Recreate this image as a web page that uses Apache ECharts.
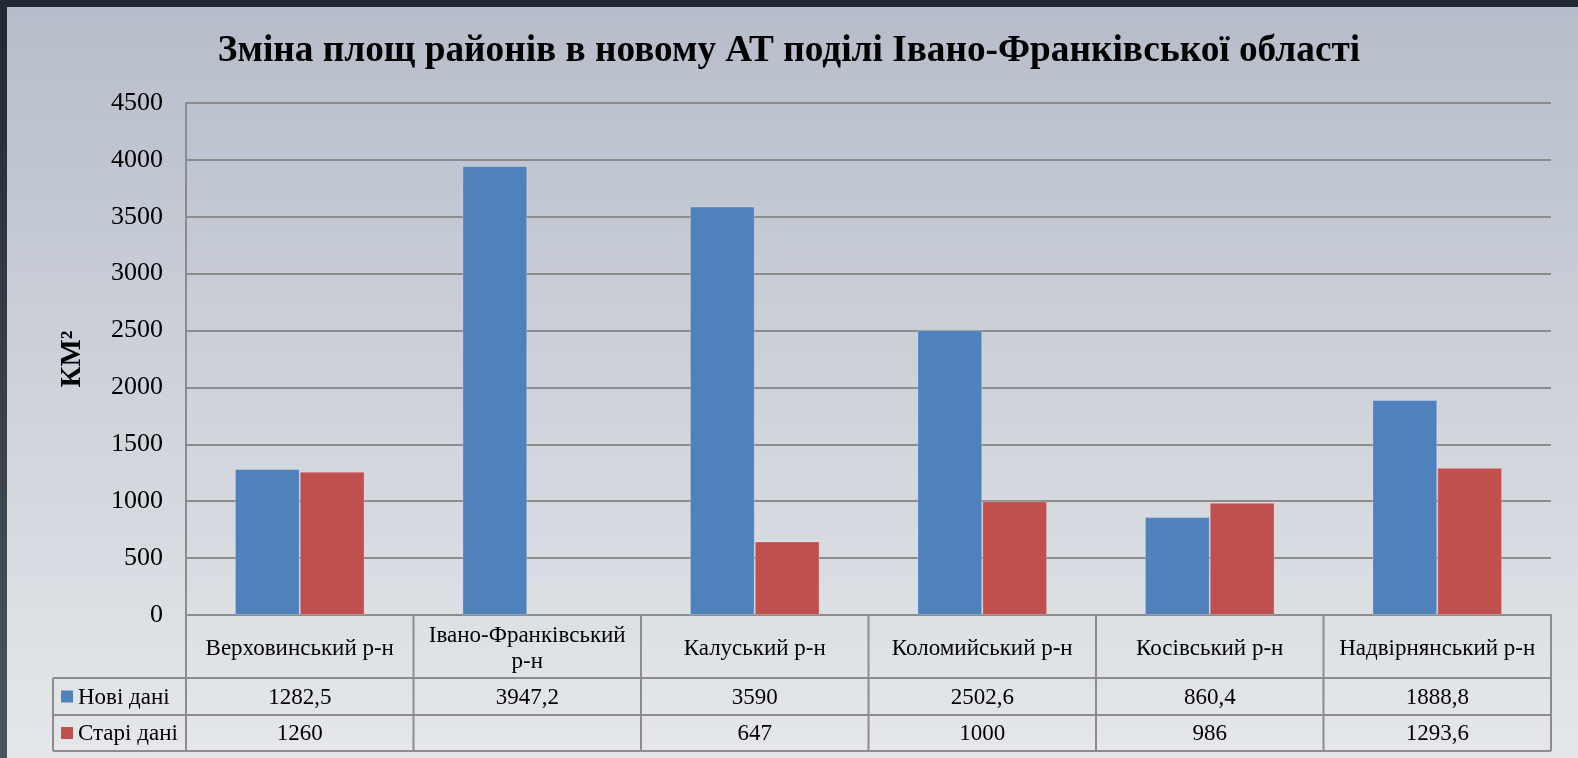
<!DOCTYPE html>
<html><head><meta charset="utf-8">
<script src="https://cdn.jsdelivr.net/npm/echarts@6/dist/echarts.min.js"></script>
<style>
html,body{margin:0;padding:0;width:1578px;height:758px;overflow:hidden;background:linear-gradient(to bottom,#232933,#4b555f);}
#bg{position:absolute;left:7px;top:7px;right:0;bottom:0;background:linear-gradient(to bottom,#b6bdca,#e5e7ea);}
#chart{position:absolute;left:0;top:0;width:1578px;height:758px;}
</style></head><body><div id="bg"></div><div id="chart"></div>
<script>
const chartTitle = 'Зміна площ районів в новому АТ поділі Івано-Франківської області';
const yAxisName = 'КМ²';
const categories = ['Верховинський р-н','Івано-Франківський р-н','Калуський р-н','Коломийський р-н','Косівський р-н','Надвірнянський р-н'];
const seriesNames = ['Нові дані','Старі дані'];
const newData = [1282.5, 3947.2, 3590, 2502.6, 860.4, 1888.8];
const oldData = [1260, null, 647, 1000, 986, 1293.6];
const yMin = 0, yMax = 4500, yInterval = 500;
const colors = ['#4f81bd','#c0504d'];

const FONT = 'Liberation Serif';
const lineColor = '#8c8c8c';

const chart = echarts.init(document.getElementById('chart'), null, {renderer:'canvas'});
const option = {
  animation: false,
  backgroundColor: 'transparent',
  title: {
    text: chartTitle, left: 'center', top: 28,
    textStyle: {fontFamily: FONT, fontWeight: 'bold', fontSize: 37.3, color: '#000'}
  },
  grid: {left: 186, right: 27, top: 103, bottom: 143, containLabel: false},
  xAxis: {
    type: 'category', data: categories,
    axisLine: {show: true, lineStyle: {color: lineColor, width: 2}},
    axisTick: {show: false},
    axisLabel: {
      fontFamily: FONT, fontSize: 23, color: '#000', margin: 34,
      verticalAlign: 'middle', lineHeight: 26, interval: 0, hideOverlap: false,
      formatter: v => v.length > 20 ? v.replace(/ (\S+)$/, '\n$1') : v
    }
  },
  yAxis: {
    type: 'value', min: yMin, max: yMax, interval: yInterval,
    name: yAxisName, nameLocation: 'middle', nameGap: 99,
    nameTextStyle: {fontFamily: FONT, fontSize: 29, fontWeight: 'bold', color: '#000'},
    axisLine: {show: true, lineStyle: {color: lineColor, width: 2}},
    axisTick: {show: false},
    splitLine: {lineStyle: {color: lineColor, width: 2}},
    axisLabel: {fontFamily: FONT, fontSize: 26, color: '#000', margin: 23, formatter: v => String(v)}
  },
  legend: {show: false},
  series: [
    {name: seriesNames[0], type: 'bar', data: newData, barGap: '0%', barCategoryGap: '43%',
     itemStyle: {color: colors[0], borderColor: 'rgba(255,255,255,0.25)', borderWidth: 1}},
    {name: seriesNames[1], type: 'bar', data: oldData, barGap: '0%', barCategoryGap: '43%',
     itemStyle: {color: colors[1], borderColor: 'rgba(255,255,255,0.25)', borderWidth: 1}}
  ]
};
chart.setOption(option);

// Data table below the axis, positioned from the chart's own scales
function buildTable() {
  const c0 = chart.convertToPixel({xAxisIndex: 0}, 0);
  const c1 = chart.convertToPixel({xAxisIndex: 0}, 1);
  const cw = c1 - c0;
  const left = c0 - cw / 2;
  const right = left + cw * categories.length;
  const y0 = chart.convertToPixel({yAxisIndex: 0}, 0);
  const r1 = y0 + 63, r2 = r1 + 37, r3 = r2 + 36;
  const legLeft = 53;
  const els = [];
  const ls = {stroke: lineColor, lineWidth: 2};
  const hline = (x1, x2, y) => els.push({type: 'line', shape: {x1, y1: y, x2, y2: y}, style: ls, silent: true});
  const vline = (x, y1, y2) => els.push({type: 'line', shape: {x1: x, y1, x2: x, y2}, style: ls, silent: true});
  hline(legLeft, right, r1);
  hline(legLeft, right, r2);
  hline(legLeft, right, r3);
  vline(legLeft, r1, r3);
  for (let i = 0; i <= categories.length; i++) vline(left + cw * i, y0, r3);
  const rows = [newData, oldData];
  const rowMid = [(r1 + r2) / 2, (r2 + r3) / 2];
  rows.forEach((arr, ri) => {
    els.push({type: 'rect', shape: {x: 61, y: rowMid[ri] - 6, width: 12, height: 12},
      style: {fill: colors[ri]}, silent: true});
    els.push({type: 'text', style: {text: seriesNames[ri], x: 78, y: rowMid[ri] + 1,
      font: '23px "Liberation Serif"', fill: '#000', align: 'left', verticalAlign: 'middle'}, silent: true});
    arr.forEach((v, i) => {
      const txt = v == null ? '' : String(v).replace('.', ',');
      els.push({type: 'text', style: {text: txt, x: left + cw * (i + 0.5), y: rowMid[ri] + 1,
        font: '23px "Liberation Serif"', fill: '#000', align: 'center', verticalAlign: 'middle'}, silent: true});
    });
  });
  chart.setOption({graphic: {elements: els}});
}
buildTable();
</script></body></html>
